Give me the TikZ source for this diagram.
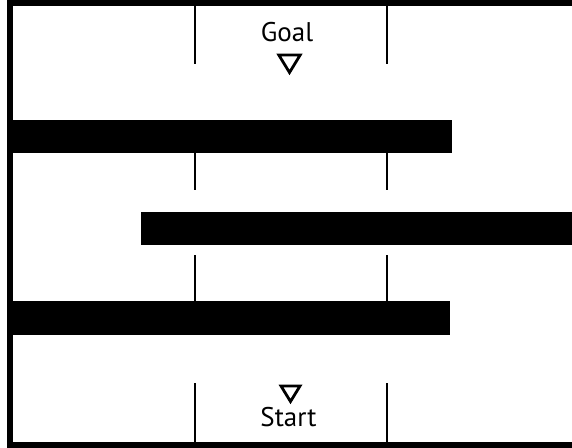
\documentclass[tikz,border=0pt]{standalone}
\usepackage{fontspec}
\setmainfont{PT Sans}
\begin{document}
\begin{tikzpicture}[x=1pt,y=-1pt,
  frame/.style={line width=6pt,line join=miter},
  bar/.style={fill=black,draw=none},
  gridline/.style={line width=1.4pt},
  marker/.style={line width=2.8pt,line join=miter},
  lbl/.style={anchor=base,inner sep=0pt,font=\fontsize{27}{30}\selectfont}]
\useasboundingbox (0,0) rectangle (572,447);
% outer frame
\draw[frame] (580,3) -- (10,3) -- (10,444.5) -- (580,444.5);
% bars
\fill[bar] (13,120) rectangle (452,153);
\fill[bar] (141,212) rectangle (580,245);
\fill[bar] (13,301) rectangle (450,335);
% vertical lines
\foreach \x in {195,387}{
  \draw[gridline] (\x,6) -- (\x,64);
  \draw[gridline] (\x,153) -- (\x,190);
  \draw[gridline] (\x,255) -- (\x,301);
  \draw[gridline] (\x,383) -- (\x,442);
}
% labels
\node[lbl] (goal) at (287,41) {Goal};
\node[lbl] (start) at (288.5,426) {Start};
% markers
\draw[marker] (278.8,55) -- (300.2,55) -- (289.5,72.5) -- cycle;
\draw[marker] (281,386) -- (300,386) -- (290.5,401.5) -- cycle;
\end{tikzpicture}
\end{document}
